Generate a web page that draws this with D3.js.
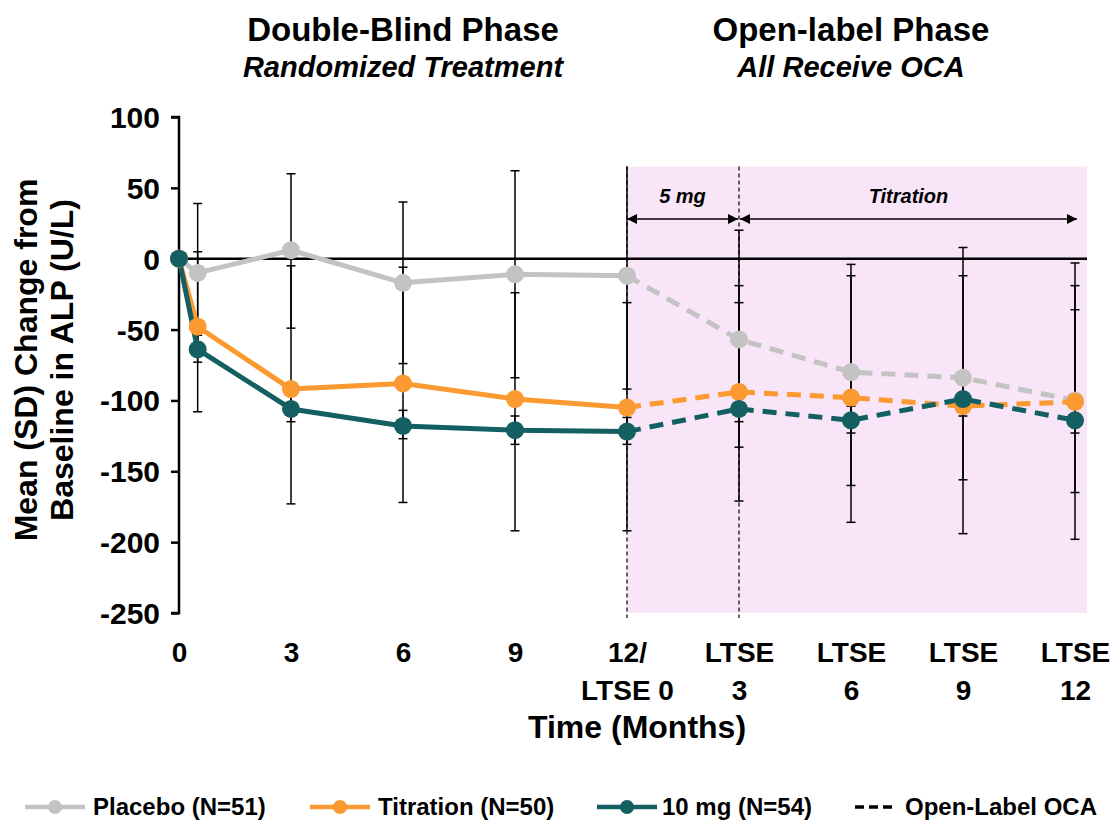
<!DOCTYPE html>
<html>
<head>
<meta charset="utf-8">
<script src="https://cdn.jsdelivr.net/npm/d3@7"></script>
<style>
  html, body { margin: 0; padding: 0; background: #fff; }
  svg { display: block; font-family: "Liberation Sans", Arial, sans-serif; }
</style>
</head>
<body>
<svg id="chart" width="1118" height="825"></svg>
<script>
// ---------- data ----------
const months = [0, 0.5, 3, 6, 9, 12, 15, 18, 21, 24];
const placeboMean   = [0, -10,   6, -17, -11, -12, -57, -80, -84, -100];
const titrationMean = [0, -48, -92, -88, -99, -105, -94, -98, -104, -101];
const mg10Mean      = [0, -64, -106, -118, -121, -122, -106, -114, -99, -114];

const placeboHi   = [null,  39,  60,  40,  62,  70,  20,  -4,   8, -36];
const placeboLo   = [null, -59, -49, -74, -84, -92, -133, -160, -156, -165];
const titrationHi = [null,   5,  -5,  -6, -24, -31, -19, -12, -12, -3];
const titrationLo = [null, -108, -173, -172, -192, -192, -171, -186, -194, -198];
const mg10Hi      = [null, -54, -96, -107, -111, -112, -31, -104, -88, -19];
const mg10Lo      = [null, -73, -115, -127, -131, -131, -115, -123, -111, -123];

const seriesNames = ["Placebo (N=51)", "Titration (N=50)", "10 mg (N=54)"];
const seriesColors = ["#c3c3c3", "#fb9a30", "#135f62"];

const xTickValues = [0, 3, 6, 9, 12, 15, 18, 21, 24];
const xTickLine1 = ["0", "3", "6", "9", "12/", "LTSE", "LTSE", "LTSE", "LTSE"];
const xTickLine2 = ["", "", "", "", "LTSE 0", "3", "6", "9", "12"];
const yTickValues = [100, 50, 0, -50, -100, -150, -200, -250];

const openLabelStart = 12;   // month where open-label starts
const titrationStart = 15;   // LTSE 3
const shadeTop = 65;         // top of the shaded open-label panel (U/L)

// ---------- setup ----------
const svg = d3.select("#chart");
const x = d3.scaleLinear().domain([0, 24]).range([179, 1075]);
const y = d3.scaleLinear().domain([-250, 100]).range([613, 117]);
const plotRight = 1087;

const series = [
  { name: seriesNames[0], color: seriesColors[0], mean: placeboMean,   hi: placeboHi,   lo: placeboLo },
  { name: seriesNames[1], color: seriesColors[1], mean: titrationMean, hi: titrationHi, lo: titrationLo },
  { name: seriesNames[2], color: seriesColors[2], mean: mg10Mean,      hi: mg10Hi,      lo: mg10Lo }
];

// shaded open-label panel
svg.append("rect")
  .attr("x", x(openLabelStart)).attr("y", y(shadeTop))
  .attr("width", plotRight - x(openLabelStart))
  .attr("height", y(-250) - y(shadeTop))
  .attr("fill", "#f8e5f8");

// dashed vertical lines
[openLabelStart, titrationStart].forEach(m => {
  svg.append("line")
    .attr("x1", x(m)).attr("x2", x(m))
    .attr("y1", y(shadeTop)).attr("y2", y(-250) + 5)
    .attr("stroke", "#000").attr("stroke-width", 1.2)
    .attr("stroke-dasharray", "4,3");
});

// zero line
svg.append("line")
  .attr("x1", x(0)).attr("x2", plotRight)
  .attr("y1", y(0)).attr("y2", y(0))
  .attr("stroke", "#000").attr("stroke-width", 2.5);

// y axis
const yAxis = d3.axisLeft(y).tickValues(yTickValues).tickSize(8).tickPadding(11)
  .tickFormat(d => String(d));
const gy = svg.append("g").attr("transform", `translate(${x(0)},0)`).call(yAxis);
gy.select(".domain").attr("stroke", "#000").attr("stroke-width", 2.5)
  .attr("d", `M-8,${y(100)}H0V${y(-250)}H-8`);
gy.selectAll(".tick line").attr("stroke", "#000").attr("stroke-width", 2.5);
gy.selectAll(".tick text").attr("fill", "#000")
  .style("font-size", "30px").style("font-weight", "bold")
  .attr("dy", "0.35em");

// x axis (labels only)
const xAxis = d3.axisBottom(x).tickValues(xTickValues).tickSize(0).tickFormat(() => "");
const gx = svg.append("g").attr("transform", `translate(0,${y(-250)})`).call(xAxis);
gx.select(".domain").remove();
gx.selectAll(".tick").each(function(d, i) {
  const t = d3.select(this).select("text")
    .attr("y", 0).attr("dy", null)
    .attr("fill", "#000")
    .style("font-size", "28px").style("font-weight", "bold");
  t.text(null);
  t.append("tspan").attr("x", 0).attr("y", 49).text(xTickLine1[i]);
  if (xTickLine2[i]) t.append("tspan").attr("x", 0).attr("y", 87).text(xTickLine2[i]);
});

// axis titles
svg.append("text")
  .attr("x", 637).attr("y", 738)
  .attr("text-anchor", "middle")
  .style("font-size", "32px").style("font-weight", "bold")
  .text("Time (Months)");

const yTitle = svg.append("text")
  .attr("transform", `translate(0,360) rotate(-90)`)
  .attr("text-anchor", "middle")
  .style("font-size", "32px").style("font-weight", "bold");
yTitle.append("tspan").attr("x", 0).attr("y", 37).text("Mean (SD) Change from");
yTitle.append("tspan").attr("x", 0).attr("y", 73).text("Baseline in ALP (U/L)");

// phase titles
const phaseTitles = [
  { cx: (x(0) + x(12)) / 2, t1: "Double-Blind Phase", t2: "Randomized Treatment" },
  { cx: (x(12) + x(24)) / 2, t1: "Open-label Phase", t2: "All Receive OCA" }
];
phaseTitles.forEach(p => {
  svg.append("text").attr("x", p.cx).attr("y", 41).attr("text-anchor", "middle")
    .style("font-size", "33px").style("font-weight", "bold").text(p.t1);
  svg.append("text").attr("x", p.cx).attr("y", 77).attr("text-anchor", "middle")
    .style("font-size", "29px").style("font-weight", "bold").style("font-style", "italic").text(p.t2);
});

// dosing arrows
const defs = svg.append("defs");
defs.append("marker").attr("id", "arrowEnd")
  .attr("viewBox", "0 0 10 10").attr("refX", 10).attr("refY", 5)
  .attr("markerWidth", 10).attr("markerHeight", 10).attr("markerUnits", "userSpaceOnUse")
  .attr("orient", "auto")
  .append("path").attr("d", "M0,0L10,5L0,10Z").attr("fill", "#000");
defs.append("marker").attr("id", "arrowStart")
  .attr("viewBox", "0 0 10 10").attr("refX", 0).attr("refY", 5)
  .attr("markerWidth", 10).attr("markerHeight", 10).attr("markerUnits", "userSpaceOnUse")
  .attr("orient", "auto")
  .append("path").attr("d", "M10,0L0,5L10,10Z").attr("fill", "#000");
defs.append("clipPath").attr("id", "plotClip")
  .append("rect").attr("x", 0).attr("y", y(shadeTop)).attr("width", 1118).attr("height", 600);

const arrows = [
  { x1: x(openLabelStart), x2: x(titrationStart) - 1, label: "5 mg" },
  { x1: x(titrationStart) + 1, x2: x(24) + 2, label: "Titration" }
];
arrows.forEach(a => {
  svg.append("line")
    .attr("x1", a.x1).attr("x2", a.x2).attr("y1", 219).attr("y2", 219)
    .attr("stroke", "#000").attr("stroke-width", 1.5)
    .attr("marker-start", "url(#arrowStart)").attr("marker-end", "url(#arrowEnd)");
  svg.append("text").attr("x", (a.x1 + a.x2) / 2).attr("y", 203)
    .attr("text-anchor", "middle")
    .style("font-size", "20px").style("font-weight", "bold").style("font-style", "italic")
    .text(a.label);
});

// error bars
const capW = 4.5;
const eb = svg.append("g").attr("clip-path", "url(#plotClip)");
series.forEach(s => {
  months.forEach((m, i) => {
    if (s.hi[i] === null) return;
    const cx = x(m);
    eb.append("line").attr("x1", cx).attr("x2", cx)
      .attr("y1", y(s.hi[i])).attr("y2", y(s.lo[i]))
      .attr("stroke", "#000").attr("stroke-width", 1.5);
    [s.hi[i], s.lo[i]].forEach(v => {
      eb.append("line").attr("x1", cx - capW).attr("x2", cx + capW)
        .attr("y1", y(v)).attr("y2", y(v))
        .attr("stroke", "#000").attr("stroke-width", 1.5);
    });
  });
});

// lines & markers
const line = d3.line().x(d => x(d[0])).y(d => y(d[1]));
const splitIdx = months.indexOf(openLabelStart);
series.forEach(s => {
  const pts = months.map((m, i) => [m, s.mean[i]]);
  svg.append("path").attr("d", line(pts.slice(0, splitIdx + 1)))
    .attr("fill", "none").attr("stroke", s.color).attr("stroke-width", 5)
    .attr("stroke-linejoin", "round");
  svg.append("path").attr("d", line(pts.slice(splitIdx)))
    .attr("fill", "none").attr("stroke", s.color).attr("stroke-width", 5)
    .attr("stroke-dasharray", "14,9");
});
series.forEach(s => {
  svg.append("g").selectAll("circle")
    .data(months.map((m, i) => [m, s.mean[i]]))
    .join("circle")
    .attr("cx", d => x(d[0])).attr("cy", d => y(d[1])).attr("r", 9)
    .attr("fill", s.color);
});

// legend
const legendY = 807;
const legendItems = [
  { x0: 25, tx: 93, color: seriesColors[0], label: seriesNames[0] },
  { x0: 310, tx: 378, color: seriesColors[1], label: seriesNames[1] },
  { x0: 597, tx: 662, color: seriesColors[2], label: seriesNames[2] }
];
const lg = svg.append("g");
legendItems.forEach(it => {
  lg.append("line").attr("x1", it.x0).attr("x2", it.x0 + 60)
    .attr("y1", legendY).attr("y2", legendY)
    .attr("stroke", it.color).attr("stroke-width", 4.5);
  lg.append("circle").attr("cx", it.x0 + 30).attr("cy", legendY).attr("r", 7).attr("fill", it.color);
  lg.append("text").attr("x", it.tx).attr("y", legendY).attr("dy", "0.35em")
    .style("font-size", "24px").style("font-weight", "bold").text(it.label);
});
lg.append("line").attr("x1", 855).attr("x2", 893)
  .attr("y1", legendY).attr("y2", legendY)
  .attr("stroke", "#000").attr("stroke-width", 3.5).attr("stroke-dasharray", "9,5");
lg.append("text").attr("x", 905).attr("y", legendY).attr("dy", "0.35em")
  .style("font-size", "24px").style("font-weight", "bold").text("Open-Label OCA");
</script>
</body>
</html>
